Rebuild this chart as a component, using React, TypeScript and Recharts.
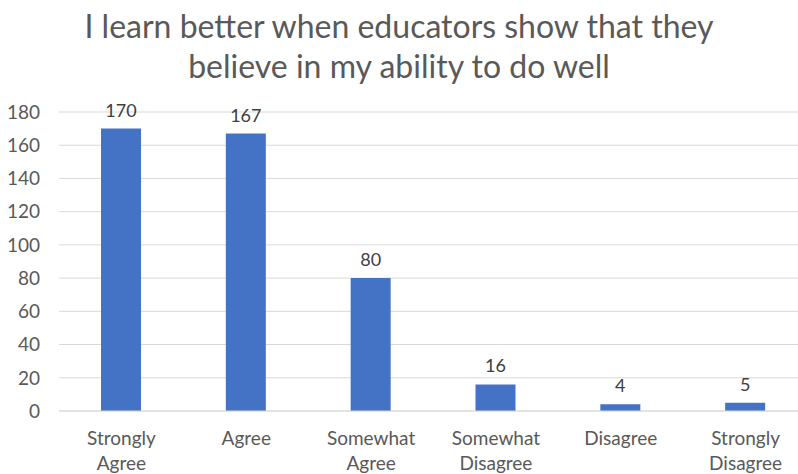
import React from "react";
import { BarChart, Bar, XAxis, YAxis, CartesianGrid, LabelList } from "recharts";

const categories = ["Strongly Agree", "Agree", "Somewhat Agree", "Somewhat Disagree", "Disagree", "Strongly Disagree"];
const counts = [170, 167, 80, 16, 4, 5];
const yTicks = [0, 20, 40, 60, 80, 100, 120, 140, 160, 180];
const titleLines = ["I learn better when educators show that they", "believe in my ability to do well"];

const data = categories.map((c, i) => ({ name: c, value: counts[i] }));

const FONT = "Lato, 'Open Sans', sans-serif";

const XTick = (props: any) => {
  const { x, y, payload } = props;
  const words = String(payload.value).split(" ");
  return (
    <g transform={`translate(${x},${y})`}>
      {words.map((w, i) => (
        <text key={i} x={0} y={26 + i * 25} textAnchor="middle" fill="#595959" fontSize={19} fontFamily={FONT}>
          {w}
        </text>
      ))}
    </g>
  );
};

export default function App() {
  return (
    <div style={{ position: "absolute", left: 0, top: 0, width: 798, height: 474, overflow: "hidden", background: "#fff" }}>
      {titleLines.map((t, i) => (
        <div
          key={i}
          style={{
            position: "absolute",
            left: 0,
            width: 798,
            top: 6 + i * 40,
            textAlign: "center",
            fontFamily: FONT,
            fontSize: 32,
            color: "#595959",
            lineHeight: "40px",
            whiteSpace: "nowrap",
          }}
        >
          {t}
        </div>
      ))}
      <div style={{ position: "absolute", left: 0, top: 0 }}>
        <BarChart width={812} height={474} data={data} margin={{ top: 112, right: 4, left: 0, bottom: 33 }} barCategoryGap={0}>
          <CartesianGrid vertical={false} stroke="#d9d9d9" strokeWidth={1} />
          <XAxis dataKey="name" tick={<XTick />} tickLine={false} axisLine={{ stroke: "#d9d9d9" }} interval={0} />
          <YAxis
            width={59}
            domain={[0, 180]}
            ticks={yTicks}
            tickLine={false}
            axisLine={false}
            tickSize={0}
            tickMargin={19}
            tick={{ fill: "#595959", fontSize: 19, fontFamily: FONT }}
          />
          <Bar dataKey="value" fill="#4472C4" barSize={40} isAnimationActive={false}>
            <LabelList dataKey="value" position="top" offset={12} fill="#404040" fontSize={18} fontFamily={FONT} />
          </Bar>
        </BarChart>
      </div>
    </div>
  );
}
